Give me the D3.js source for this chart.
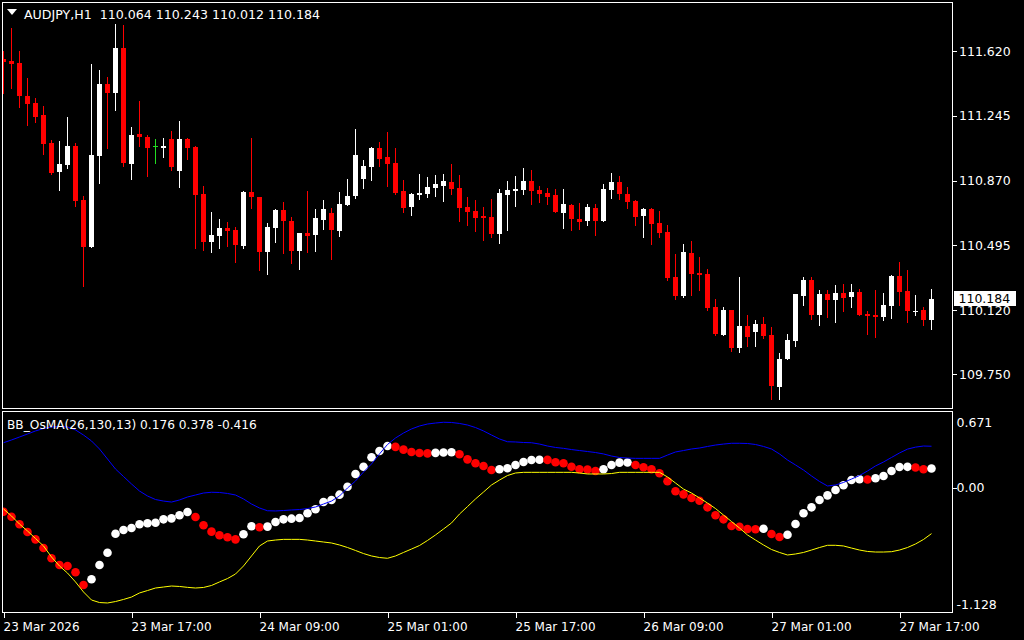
<!DOCTYPE html>
<html><head><meta charset="utf-8">
<script src="https://cdn.jsdelivr.net/npm/d3@7"></script>
<style>
html,body{margin:0;padding:0;background:#000;overflow:hidden}
svg{display:block}
text{font-family:"DejaVu Sans",sans-serif;fill:#fff}
</style>
</head><body>
<svg id="c" width="1024" height="640"></svg>
<script>
const symbol = "AUDJPY,H1";
const indName = "BB_OsMA(26,130,13)";

const open = [111.574,111.562,111.551,111.361,111.319,111.249,111.087,110.920,110.961,111.069,
110.756,110.486,111.013,111.429,111.378,111.637,110.967,111.139,111.121,111.069,
111.059,111.110,110.926,111.110,111.064,110.791,110.514,110.549,110.594,110.582,
110.491,110.803,110.774,110.457,110.596,110.698,110.635,110.462,110.565,110.555,
110.642,110.681,110.578,110.729,110.781,110.880,110.949,111.058,111.006,110.971,
110.808,110.717,110.787,110.793,110.828,110.839,110.861,110.826,110.716,110.692,
110.664,110.658,110.561,110.787,110.810,110.816,110.866,110.814,110.797,110.785,
110.683,110.727,110.646,110.636,110.710,110.636,110.816,110.861,110.791,110.751,
110.665,110.704,110.623,110.571,110.310,110.201,110.449,110.333,110.327,110.136,
109.975,110.119,109.900,110.026,109.993,110.043,109.974,109.674,109.836,109.941,
110.201,110.293,110.091,110.211,110.178,110.217,110.196,110.223,110.097,110.091,
110.080,110.143,110.316,110.229,110.114,110.119,110.064];
const high = [111.620,111.753,111.620,111.464,111.348,111.301,111.104,111.098,111.237,111.087,
110.780,111.545,111.510,111.469,111.777,111.771,111.180,111.330,111.133,111.110,
111.116,111.156,111.214,111.116,111.069,110.837,110.687,110.646,110.629,110.600,
110.808,111.116,110.774,110.623,110.704,110.745,110.658,110.565,110.808,110.704,
110.756,110.710,110.803,110.878,111.168,110.988,111.064,111.093,111.150,111.058,
110.872,110.797,110.907,110.890,110.901,110.907,110.965,110.901,110.774,110.756,
110.716,110.762,110.820,110.866,110.895,110.942,110.930,110.837,110.826,110.820,
110.820,110.733,110.739,110.733,110.733,110.849,110.913,110.895,110.832,110.756,
110.710,110.710,110.692,110.611,110.443,110.501,110.519,110.426,110.356,110.182,
110.136,110.124,110.310,110.090,110.061,110.078,110.020,109.875,109.985,110.211,
110.310,110.310,110.235,110.235,110.264,110.269,110.269,110.240,110.113,110.235,
110.217,110.322,110.397,110.351,110.206,110.136,110.243];
const low = [111.378,111.407,111.297,111.191,111.210,111.025,110.909,110.816,110.944,110.723,
110.260,110.486,110.857,111.059,111.280,110.955,110.880,111.071,110.897,110.972,
111.007,110.932,110.833,110.996,110.480,110.468,110.457,110.480,110.491,110.399,
110.480,110.712,110.352,110.329,110.514,110.451,110.393,110.358,110.457,110.462,
110.590,110.416,110.549,110.729,110.770,110.828,110.874,110.955,110.839,110.793,
110.688,110.671,110.764,110.775,110.781,110.752,110.793,110.636,110.613,110.578,
110.526,110.544,110.509,110.584,110.723,110.793,110.735,110.746,110.735,110.688,
110.596,110.584,110.590,110.613,110.555,110.636,110.770,110.764,110.712,110.613,
110.544,110.503,110.544,110.294,110.184,110.196,110.207,110.236,110.120,109.975,
109.975,109.883,109.877,109.912,109.912,109.958,109.604,109.604,109.836,109.912,
110.149,110.068,110.033,110.080,110.051,110.114,110.138,110.091,109.981,109.964,
110.062,110.074,110.149,110.051,110.091,110.033,110.012];
const close = [111.558,111.546,111.361,111.314,111.239,111.083,110.913,110.965,111.069,110.752,
110.486,111.017,111.429,111.378,111.637,110.972,111.133,111.123,111.059,111.069,
111.069,110.949,111.110,111.059,110.787,110.514,110.553,110.594,110.578,110.497,
110.803,110.775,110.457,110.600,110.698,110.636,110.462,110.565,110.549,110.652,
110.704,110.584,110.733,110.780,111.017,110.953,111.058,110.996,110.967,110.799,
110.712,110.791,110.797,110.832,110.849,110.866,110.822,110.712,110.688,110.654,
110.654,110.561,110.797,110.814,110.820,110.866,110.810,110.793,110.775,110.688,
110.733,110.648,110.631,110.716,110.636,110.820,110.861,110.793,110.746,110.659,
110.704,110.619,110.567,110.306,110.201,110.455,110.329,110.322,110.132,109.981,
110.119,109.900,110.026,109.964,110.043,109.970,109.680,109.840,109.945,110.211,
110.293,110.091,110.211,110.178,110.217,110.190,110.223,110.091,110.086,110.080,
110.148,110.316,110.225,110.114,110.117,110.062,110.184];

const osma = [-0.217,-0.262,-0.331,-0.401,-0.468,-0.547,-0.640,-0.701,-0.710,-0.767,
-0.883,-0.831,-0.701,-0.589,-0.417,-0.383,-0.365,-0.331,-0.322,-0.317,
-0.286,-0.277,-0.249,-0.219,-0.265,-0.340,-0.398,-0.431,-0.449,-0.468,
-0.422,-0.349,-0.358,-0.352,-0.310,-0.286,-0.280,-0.274,-0.231,-0.195,
-0.129,-0.110,-0.062,0.010,0.126,0.192,0.278,0.335,0.380,0.372,
0.347,0.326,0.317,0.313,0.318,0.321,0.324,0.305,0.259,0.223,
0.199,0.162,0.169,0.178,0.208,0.235,0.253,0.256,0.254,0.232,
0.223,0.192,0.169,0.167,0.153,0.169,0.208,0.229,0.230,0.208,
0.187,0.169,0.132,0.060,-0.031,-0.059,-0.092,-0.117,-0.177,-0.249,
-0.286,-0.347,-0.353,-0.374,-0.376,-0.372,-0.419,-0.447,-0.426,-0.329,
-0.231,-0.177,-0.110,-0.068,-0.020,0.023,0.071,0.078,0.076,0.087,
0.108,0.153,0.189,0.191,0.185,0.169,0.176];
const upper = [0.410,0.435,0.462,0.489,0.517,0.539,0.553,0.557,0.553,0.526,
0.480,0.426,0.353,0.262,0.171,0.103,0.035,-0.029,-0.074,-0.106,
-0.120,-0.129,-0.110,-0.083,-0.065,-0.047,-0.040,-0.042,-0.051,-0.065,
-0.101,-0.147,-0.183,-0.208,-0.210,-0.206,-0.201,-0.197,-0.188,-0.174,
-0.147,-0.120,-0.074,-0.001,0.062,0.144,0.217,0.308,0.394,0.453,
0.498,0.535,0.562,0.580,0.589,0.596,0.594,0.585,0.571,0.548,
0.517,0.480,0.444,0.419,0.417,0.412,0.410,0.398,0.380,0.367,
0.359,0.348,0.339,0.330,0.321,0.308,0.289,0.276,0.271,0.268,
0.268,0.268,0.268,0.298,0.326,0.339,0.353,0.362,0.376,0.389,
0.398,0.405,0.405,0.403,0.394,0.376,0.353,0.308,0.253,0.208,
0.162,0.108,0.058,0.017,0.026,0.049,0.080,0.112,0.153,0.199,
0.235,0.276,0.317,0.352,0.370,0.380,0.378];
const lower = [-0.192,-0.256,-0.329,-0.392,-0.460,-0.528,-0.628,-0.710,-0.774,-0.855,
-0.946,-1.019,-1.042,-1.046,-1.033,-1.014,-0.992,-0.955,-0.933,-0.910,
-0.901,-0.892,-0.896,-0.904,-0.910,-0.905,-0.887,-0.855,-0.824,-0.783,
-0.710,-0.619,-0.528,-0.483,-0.474,-0.468,-0.468,-0.468,-0.474,-0.483,
-0.492,-0.501,-0.519,-0.542,-0.569,-0.597,-0.619,-0.633,-0.640,-0.619,
-0.587,-0.556,-0.524,-0.478,-0.428,-0.374,-0.319,-0.238,-0.170,-0.101,
-0.038,0.026,0.071,0.112,0.135,0.141,0.141,0.141,0.141,0.141,
0.141,0.141,0.135,0.126,0.126,0.126,0.130,0.141,0.141,0.141,
0.141,0.141,0.141,0.099,0.044,-0.011,-0.047,-0.092,-0.138,-0.188,
-0.247,-0.306,-0.365,-0.428,-0.474,-0.519,-0.560,-0.587,-0.610,-0.601,
-0.587,-0.565,-0.542,-0.522,-0.522,-0.528,-0.547,-0.565,-0.578,-0.583,
-0.583,-0.580,-0.565,-0.542,-0.510,-0.469,-0.416];

const priceTicks = [111.620,111.245,110.870,110.495,110.120,109.750];
const indTicks = [0.671,0.00,-1.128];
const timeTickBars = [0,16,32,48,64,80,96,112];
const timeTickLabels = ["23 Mar 2026","23 Mar 17:00","24 Mar 09:00","25 Mar 01:00","25 Mar 17:00","26 Mar 09:00","27 Mar 01:00","27 Mar 17:00"];

const svg = d3.select("#c");
const N = close.length;
const L = 2.5, R = 952.5, mainTop = 2.5, mainBot = 408.5, indTop = 411.5, indBot = 612.5;
const x = d3.scaleLinear().domain([0, 116]).range([3, 931]);
const y = d3.scaleLinear().domain([110.120, 111.620]).range([310.2, 51]);
const yi = d3.scaleLinear().domain([-1.128, 0.671]).range([612, 414]);
const idx = d3.range(N);
const loc = d3.formatLocale({decimal: ".", thousands: ",", grouping: [3], currency: ["", ""], minus: "-"});
const f3 = loc.format(".3f");

svg.append("rect").attr("width",1024).attr("height",640).attr("fill","#000");

const defs = svg.append("defs");
defs.append("clipPath").attr("id","cm").append("rect")
  .attr("x",L+0.5).attr("y",mainTop+0.5).attr("width",R-L-1).attr("height",mainBot-mainTop-1);
defs.append("clipPath").attr("id","ci").append("rect")
  .attr("x",L+0.5).attr("y",indTop+0.5).attr("width",R-L-1).attr("height",indBot-indTop-1);

// candles
const gc = svg.append("g").attr("clip-path","url(#cm)").attr("shape-rendering","crispEdges");
const col = i => close[i] > open[i] ? "#ffffff" : (close[i] < open[i] ? "#ff0000" : "#22dd22");
gc.selectAll("rect.w").data(idx).join("rect").attr("class","w")
  .attr("x", i => Math.round(x(i))).attr("width",1)
  .attr("y", i => Math.round(y(high[i])))
  .attr("height", i => Math.max(1, Math.round(y(low[i])) - Math.round(y(high[i])) + 1))
  .attr("fill", col);
gc.selectAll("rect.b").data(idx).join("rect").attr("class","b")
  .attr("x", i => Math.round(x(i)) - 2).attr("width",5)
  .attr("y", i => Math.round(y(Math.max(open[i],close[i]))))
  .attr("height", i => Math.max(1, Math.round(y(Math.min(open[i],close[i]))) - Math.round(y(Math.max(open[i],close[i])))))
  .attr("fill", col);

// indicator
const gi = svg.append("g").attr("clip-path","url(#ci)");
gi.selectAll("circle").data(idx).join("circle")
  .attr("cx", i => x(i) + 0.5).attr("cy", i => yi(osma[i])).attr("r", 4.3)
  .attr("fill", i => (i > 0 && osma[i] >= osma[i-1]) ? "#ffffff" : "#ff0000");
const line = arr => d3.line().x(i => x(i) + 0.5).y(i => yi(arr[i]))(idx);
gi.append("path").attr("d", line(upper)).attr("fill","none").attr("stroke","#0000ff").attr("stroke-width",1);
gi.append("path").attr("d", line(lower)).attr("fill","none").attr("stroke","#ffff00").attr("stroke-width",1);

// frames
svg.append("rect").attr("x",L).attr("y",mainTop).attr("width",R-L).attr("height",mainBot-mainTop)
  .attr("fill","none").attr("stroke","#fff").attr("shape-rendering","crispEdges");
svg.append("rect").attr("x",L).attr("y",indTop).attr("width",R-L).attr("height",indBot-indTop)
  .attr("fill","none").attr("stroke","#fff").attr("shape-rendering","crispEdges");

// price axis
const pa = svg.append("g").attr("transform",`translate(${R},0)`)
  .call(d3.axisRight(y).tickValues(priceTicks).tickFormat(f3).tickSizeInner(4).tickSizeOuter(0).tickPadding(2.5));
pa.select(".domain").remove();
pa.selectAll("line").attr("stroke","#fff").attr("shape-rendering","crispEdges");
pa.selectAll("text").attr("fill","#fff").style("font-size","12.5px").style("font-family","DejaVu Sans");

// indicator axis
const ia = svg.append("g").attr("transform",`translate(${R},0)`)
  .call(d3.axisRight(yi).tickValues(indTicks).tickFormat(d => d === 0 ? "0.00" : f3(d)).tickSizeInner(4).tickSizeOuter(0).tickPadding(-2));
ia.select(".domain").remove();
ia.selectAll("line").attr("stroke","#fff").attr("shape-rendering","crispEdges")
  .attr("opacity", d => d === 0 ? 1 : 0);
ia.selectAll("text").attr("fill","#fff").style("font-size","12.5px").style("font-family","DejaVu Sans")
  .attr("x", 4)
  .attr("y", d => d === indTicks[0] ? 8 : (d === indTicks[2] ? -8 : 0));

// time axis
const ta = svg.append("g").attr("transform",`translate(0,${indBot})`)
  .call(d3.axisBottom(x).tickValues(timeTickBars).tickFormat((d,i) => timeTickLabels[i]).tickSizeInner(5).tickSizeOuter(0).tickPadding(4.5));
ta.select(".domain").remove();
ta.selectAll("line").attr("stroke","#fff").attr("shape-rendering","crispEdges").attr("transform","translate(0.5,0)");
ta.selectAll("text").attr("fill","#fff").attr("text-anchor","start").attr("x",0)
  .style("font-size","12px").style("font-family","DejaVu Sans");

// price tag
const last = close[N-1];
const yl = Math.round(y(last));
svg.append("rect").attr("x",954).attr("y",yl-8).attr("width",62).attr("height",15).attr("fill","#fff");
svg.append("text").attr("x",958.5).attr("y",yl).attr("dy","0.32em").style("font-size","12.5px")
  .style("fill","#000").text(f3(last));

// titles
svg.append("path").attr("d","M7,9 L17,9 L12,15 Z").attr("fill","#fff");
svg.append("text").attr("x",24).attr("y",19).style("font-size","12.6px").style("white-space","pre")
  .text(`${symbol}  ${f3(open[N-1])} ${f3(high[N-1])} ${f3(low[N-1])} ${f3(close[N-1])}`);
svg.append("text").attr("x",7).attr("y",429).style("font-size","12.2px")
  .text(`${indName} ${f3(osma[N-1])} ${f3(upper[N-1])} ${f3(lower[N-1])}`);
</script>
</body></html>
